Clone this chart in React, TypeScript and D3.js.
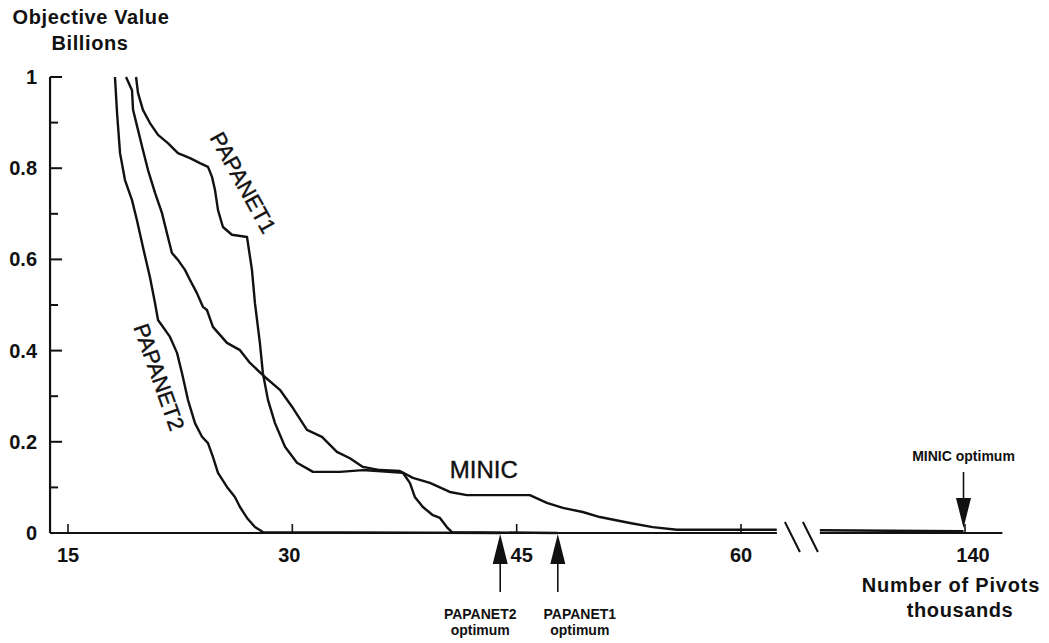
import { useEffect, useRef } from "react";
import * as d3 from "d3";

// values (x: thousands of pivots, y: billions)
const papanet2X = [18.14, 18.28, 18.48, 18.81, 19.28, 19.61, 20.01, 20.48, 20.82, 21.02, 21.82, 22.29, 22.62, 23.02, 23.49, 23.96, 24.36, 24.69, 25.03, 25.63, 26.16, 26.5, 26.97, 27.5, 28.03, 43.88];
const papanet2Y = [1.0, 0.921, 0.833, 0.774, 0.73, 0.686, 0.627, 0.561, 0.504, 0.467, 0.43, 0.395, 0.351, 0.292, 0.241, 0.211, 0.197, 0.167, 0.132, 0.101, 0.079, 0.057, 0.033, 0.013, 0.002, 0.0];

const minicX = [18.88, 19.28, 19.35, 19.68, 20.01, 20.35, 20.82, 21.28, 21.68, 21.95, 22.35, 22.82, 23.16, 23.62, 24.02, 24.29, 24.69, 25.63, 26.5, 27.17, 28.03, 29.17, 30.04, 30.98, 31.98, 32.98, 33.85, 34.72, 35.86, 37.19, 38.06, 39.2, 40.53, 41.67, 45.88, 47.02, 48.09, 49.42, 50.56, 52.57, 54.1, 55.71, 62.39];
const minicY = [1.0, 0.971, 0.928, 0.884, 0.84, 0.796, 0.746, 0.702, 0.649, 0.614, 0.599, 0.577, 0.555, 0.526, 0.496, 0.489, 0.452, 0.417, 0.401, 0.373, 0.346, 0.314, 0.274, 0.226, 0.211, 0.178, 0.164, 0.145, 0.138, 0.136, 0.121, 0.11, 0.09, 0.083, 0.083, 0.066, 0.055, 0.046, 0.035, 0.022, 0.013, 0.007, 0.007];
const minicTailX = [130.3, 139.9];
const minicTailY = [0.006, 0.004];

const papanet1X = [19.55, 19.68, 20.01, 20.48, 21.02, 21.68, 22.35, 23.16, 23.82, 24.36, 24.63, 24.83, 25.03, 25.36, 25.96, 26.97, 27.03, 27.3, 27.5, 27.83, 28.03, 28.37, 28.84, 29.51, 30.31, 31.38, 33.18, 34.72, 37.39, 37.86, 38.19, 38.73, 39.4, 39.87, 40.33, 40.67, 47.75];
const papanet1Y = [1.0, 0.965, 0.928, 0.899, 0.873, 0.855, 0.833, 0.822, 0.811, 0.803, 0.781, 0.752, 0.708, 0.671, 0.654, 0.649, 0.636, 0.577, 0.504, 0.417, 0.351, 0.292, 0.241, 0.189, 0.154, 0.134, 0.134, 0.138, 0.132, 0.11, 0.079, 0.057, 0.039, 0.033, 0.013, 0.002, 0.0];

const xTicksLeft = [15, 30, 45, 60];
const xTicksRight = [140];
const yTicks = [0, 0.2, 0.4, 0.6, 0.8, 1];
const yMinorTicks = [0.1, 0.3, 0.5, 0.7, 0.9];

const leftDomain = [13.8, 62.4];
const rightDomain = [130.3, 142.5];

const curveLabels = ["PAPANET1", "PAPANET2", "MINIC"];
const curveLabelX = [26.7, 21.08, 42.8];
const curveLabelY = [0.768, 0.342, 0.12];
const curveLabelAngle = [61, 70.5, 0];

const optimumNames = ["PAPANET2", "PAPANET1"];
const optimumX = [43.9, 47.75];
const minicOptimumX = 139.9;

const FONT = "'Liberation Sans', Arial, Helvetica, sans-serif";

export default function App() {
  const ref = useRef<SVGSVGElement | null>(null);

  useEffect(() => {
    const width = 1049;
    const height = 643;
    const svg = d3.select(ref.current);
    svg.selectAll("*").remove();
    svg.attr("viewBox", `0 0 ${width} ${height}`);

    const y = d3.scaleLinear().domain([0, 1]).range([533, 77]);
    const xL = d3.scaleLinear().domain([15, 60]).range([68, 741]);
    const xR = d3.scaleLinear().domain([130, 145]).range([815.4, 1039.8]);
    const y0 = y(0);
    const ink = "#111";

    const g = svg.append("g").attr("font-family", FONT).attr("fill", ink);

    // axes
    const ax = xL(leftDomain[0]);
    g.append("line")
      .attr("x1", ax).attr("x2", ax)
      .attr("y1", y(1)).attr("y2", y0)
      .attr("stroke", ink).attr("stroke-width", 2.2);
    g.append("line")
      .attr("x1", ax).attr("x2", xL(leftDomain[1]))
      .attr("y1", y0).attr("y2", y0)
      .attr("stroke", ink).attr("stroke-width", 2.2);
    g.append("line")
      .attr("x1", xR(rightDomain[0])).attr("x2", xR(rightDomain[1]))
      .attr("y1", y0).attr("y2", y0)
      .attr("stroke", ink).attr("stroke-width", 2.2);

    // axis break
    const b0 = xL(leftDomain[1]);
    [8, 26].forEach((o) => {
      g.append("line")
        .attr("x1", b0 + o).attr("y1", y0 - 11)
        .attr("x2", b0 + o + 15).attr("y2", y0 + 19)
        .attr("stroke", ink).attr("stroke-width", 2);
    });

    // y ticks
    g.selectAll(".ymaj")
      .data(yTicks)
      .join("line")
      .attr("class", "ymaj")
      .attr("x1", ax).attr("x2", ax + 12)
      .attr("y1", (d) => y(d)).attr("y2", (d) => y(d))
      .attr("stroke", ink).attr("stroke-width", 2);
    g.selectAll(".ymin")
      .data(yMinorTicks)
      .join("line")
      .attr("class", "ymin")
      .attr("x1", ax).attr("x2", ax + 8)
      .attr("y1", (d) => y(d)).attr("y2", (d) => y(d))
      .attr("stroke", ink).attr("stroke-width", 2);
    g.selectAll(".ylab")
      .data(yTicks)
      .join("text")
      .attr("class", "ylab")
      .attr("x", ax - 13)
      .attr("y", (d) => y(d) + 7)
      .attr("text-anchor", "end")
      .attr("font-size", 20)
      .attr("font-weight", "bold")
      .text((d) => String(d));

    // x ticks
    const xTickData = [
      ...xTicksLeft.map((v) => ({ v, px: xL(v) })),
      ...xTicksRight.map((v) => ({ v, px: xR(v) })),
    ];
    // small nudges as in the original layout (45 sits right of the arrow)
    const labelNudge: Record<number, number> = { 30: -3, 45: 5, 140: 8 };
    g.selectAll(".xt")
      .data(xTickData)
      .join("line")
      .attr("class", "xt")
      .attr("x1", (d) => d.px).attr("x2", (d) => d.px)
      .attr("y1", y0).attr("y2", y0 - 9)
      .attr("stroke", ink).attr("stroke-width", 1.6);
    g.selectAll(".xlab")
      .data(xTickData)
      .join("text")
      .attr("class", "xlab")
      .attr("x", (d) => d.px + (labelNudge[d.v] || 0))
      .attr("y", y0 + 29)
      .attr("text-anchor", "middle")
      .attr("font-size", 20)
      .attr("font-weight", "bold")
      .text((d) => String(d.v));

    // curves
    const path = (xs: number[], ys: number[], sx: (v: number) => number) =>
      d3
        .line<number>()
        .x((d) => sx(d))
        .y((_, i) => y(ys[i]))(xs);

    [
      [papanet2X, papanet2Y],
      [minicX, minicY],
      [papanet1X, papanet1Y],
    ].forEach(([xs, ys]) => {
      g.append("path")
        .attr("d", path(xs, ys, xL))
        .attr("fill", "none")
        .attr("stroke", ink)
        .attr("stroke-width", 2.4)
        .attr("stroke-linejoin", "round");
    });
    g.append("path")
      .attr("d", path(minicTailX, minicTailY, xR))
      .attr("fill", "none")
      .attr("stroke", ink)
      .attr("stroke-width", 2.6);

    // curve labels
    curveLabels.forEach((t, i) => {
      const cx = xL(curveLabelX[i]);
      const cy = y(curveLabelY[i]);
      g.append("text")
        .attr("x", cx)
        .attr("y", cy)
        .attr("text-anchor", "middle")
        .attr("dominant-baseline", i < 2 ? "central" : "auto")
        .attr("transform", `rotate(${curveLabelAngle[i]},${cx},${cy})`)
        .attr("font-size", i < 2 ? 22 : 24)
        .attr("stroke", ink)
        .attr("stroke-width", 0.4)
        .text(t);
    });

    // optimum arrows (up, below axis)
    const labelShift = [-20, 22];
    optimumNames.forEach((name, i) => {
      const px = xL(optimumX[i]);
      g.append("path")
        .attr("d", `M${px},${y0 + 1}L${px - 7.5},${y0 + 31}L${px + 7.5},${y0 + 31}Z`);
      g.append("line")
        .attr("x1", px).attr("x2", px)
        .attr("y1", y0 + 30).attr("y2", y0 + 59)
        .attr("stroke", ink).attr("stroke-width", 1.6);
      const lx = px + labelShift[i];
      g.append("text")
        .attr("x", lx).attr("y", y0 + 86)
        .attr("text-anchor", "middle")
        .attr("font-size", 14)
        .attr("font-weight", "bold")
        .text(name);
      g.append("text")
        .attr("x", lx).attr("y", y0 + 102)
        .attr("text-anchor", "middle")
        .attr("font-size", 14)
        .attr("font-weight", "bold")
        .text("optimum");
    });

    // MINIC optimum arrow (down, above axis)
    const mx = xR(minicOptimumX);
    g.append("line")
      .attr("x1", mx).attr("x2", mx)
      .attr("y1", y0 - 61).attr("y2", y0 - 33)
      .attr("stroke", ink).attr("stroke-width", 1.6);
    g.append("path")
      .attr("d", `M${mx},${y0 - 5}L${mx - 7.5},${y0 - 35}L${mx + 7.5},${y0 - 35}Z`);
    g.append("text")
      .attr("x", mx).attr("y", y0 - 72)
      .attr("text-anchor", "middle")
      .attr("font-size", 14)
      .attr("font-weight", "bold")
      .text("MINIC optimum");

    // axis titles
    g.append("text")
      .attr("x", 91).attr("y", 24)
      .attr("text-anchor", "middle")
      .attr("font-size", 20).attr("font-weight", "bold")
      .attr("letter-spacing", 0.6)
      .text("Objective Value");
    g.append("text")
      .attr("x", 90).attr("y", 50)
      .attr("text-anchor", "middle")
      .attr("font-size", 20).attr("font-weight", "bold")
      .attr("letter-spacing", 0.6)
      .text("Billions");
    g.append("text")
      .attr("x", 951).attr("y", 592)
      .attr("text-anchor", "middle")
      .attr("font-size", 20).attr("font-weight", "bold")
      .attr("letter-spacing", 0.8)
      .text("Number of Pivots");
    g.append("text")
      .attr("x", 960).attr("y", 617)
      .attr("text-anchor", "middle")
      .attr("font-size", 20).attr("font-weight", "bold")
      .attr("letter-spacing", 0.6)
      .text("thousands");
  }, []);

  return (
    <svg
      ref={ref}
      width={1049}
      height={643}
      style={{ position: "absolute", left: 0, top: 0, background: "#fff" }}
      role="img"
      aria-label="Objective value versus number of pivots for PAPANET1, PAPANET2 and MINIC"
    />
  );
}
